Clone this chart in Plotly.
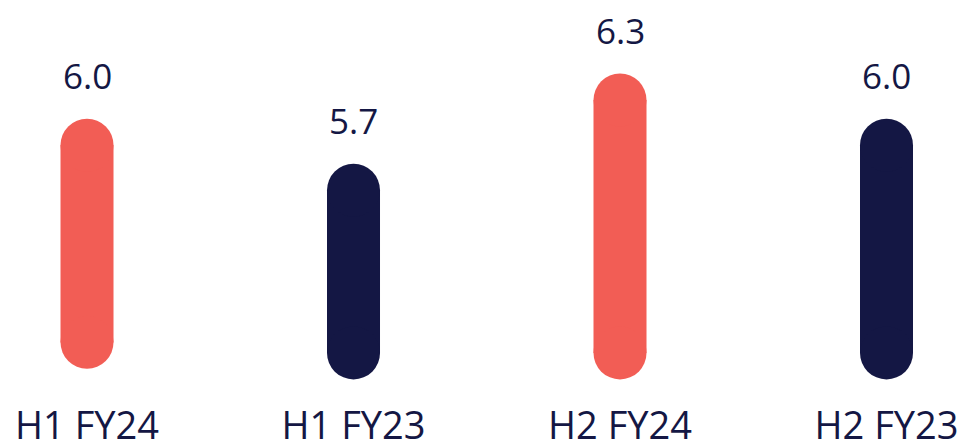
import plotly.graph_objects as go

categories = ["H1 FY24", "H1 FY23", "H2 FY24", "H2 FY23"]
values = [6.0, 5.7, 6.3, 6.0]
bases = [4.69, 4.62, 4.62, 4.62]
value_labels = ["6.0", "5.7", "6.3", "6.0"]

CORAL = "#F25D55"
NAVY = "#141744"
bar_colors = [CORAL, NAVY, CORAL, NAVY]
BAR_W = 53

fig = go.Figure()
for cat, v, b, c in zip(categories, values, bases, bar_colors):
    fig.add_trace(go.Scatter(
        x=[cat, cat], y=[b, v], mode="lines+markers",
        line=dict(color=c, width=BAR_W),
        marker=dict(color=c, size=BAR_W, line=dict(width=0)),
        hoverinfo="skip", showlegend=False,
    ))

for cat, v, lab in zip(categories, values, value_labels):
    fig.add_annotation(
        x=cat, y=v, text=lab, showarrow=False,
        yanchor="bottom", yshift=44,
        font=dict(family="Open Sans", size=35, color=NAVY),
    )

fig.update_layout(
    width=960, height=444,
    margin=dict(l=0, r=0, t=0, b=44, autoexpand=False),
    paper_bgcolor="white", plot_bgcolor="white",
    font=dict(family="Open Sans", color=NAVY),
    xaxis=dict(
        type="category", categoryorder="array", categoryarray=categories,
        range=[-0.3265, 3.2758], showgrid=False, zeroline=False, showline=False,
        automargin=False, ticks="", ticklabelstandoff=0,
        tickfont=dict(family="Open Sans", size=38, color=NAVY),
    ),
    yaxis=dict(range=[4.3070, 6.9648], visible=False, showgrid=False, zeroline=False,
               automargin=False),
)

fig.write_html("out.html")
